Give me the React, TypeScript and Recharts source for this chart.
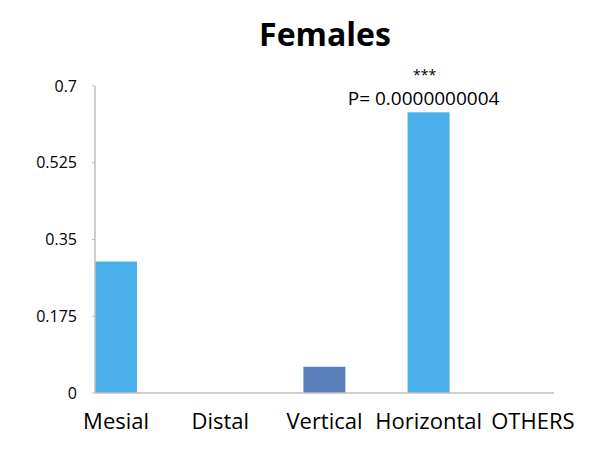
import React from 'react';
import { BarChart, Bar, XAxis, YAxis, Cell, LabelList } from 'recharts';

const categories = ['Mesial', 'Distal', 'Vertical', 'Horizontal', 'OTHERS'];
const values = [0.3, 0, 0.06, 0.64, 0];
const stars = ['', '', '', '***', ''];
const pValues = ['', '', '', 'P= 0.0000000004', ''];
const yTicks = [0, 0.175, 0.35, 0.525, 0.7];

const LIGHT = '#4BAFEA';
const DARK = '#5A80BC';
const barColors = [LIGHT, LIGHT, DARK, LIGHT, LIGHT];

const FONT = '"Open Sans", sans-serif';

const data = categories.map((name, i) => ({
    name,
    value: values[i],
    stars: stars[i],
    p: pValues[i],
}));

// significance note drawn above the bar that carries a p-value
const PLabel = (props: any) => {
    const { x, y, width, value } = props;
    if (!value) return null;
    const i = pValues.indexOf(value);
    const cx = Number(x) + Number(width) / 2 - 5;
    const top = Number(y);
    return (
        <g fontFamily={FONT} fill="#000" textAnchor="middle">
            <text x={cx + 1} y={top - 32} fontSize={14}>{stars[i]}</text>
            <text x={cx} y={top - 7} fontSize={19}>{value}</text>
        </g>
    );
};

const App = () => {
    return (
        <div style={{ position: 'absolute', left: 0, top: 0, width: 591, height: 456, background: '#fff' }}>
            <div
                style={{
                    position: 'absolute',
                    left: 0,
                    width: 650,
                    top: 12,
                    textAlign: 'center',
                    fontFamily: FONT,
                    fontWeight: 700,
                    fontSize: 32,
                    lineHeight: '44px',
                    color: '#000',
                }}
            >
                Females
            </div>
            <BarChart width={591} height={456} data={data} margin={{ top: 86, right: 37, left: 0, bottom: 0 }}>
                <XAxis
                    dataKey="name"
                    height={63}
                    padding={{ left: -31, right: -31 }}
                    axisLine={{ stroke: '#BFBFBF', strokeWidth: 1.5 }}
                    tickLine={false}
                    tickSize={0}
                    tickMargin={20}
                    interval={0}
                    tick={{ fill: '#000', fontSize: 22, fontFamily: FONT }}
                />
                <YAxis
                    width={95}
                    domain={[0, 0.7]}
                    ticks={yTicks}
                    interval={0}
                    axisLine={{ stroke: '#BFBFBF', strokeWidth: 1.5 }}
                    tickLine={{ stroke: '#BFBFBF' }}
                    tickSize={3}
                    tickMargin={15}
                    tick={{ fill: '#000', fontSize: 16, fontFamily: FONT }}
                />
                <Bar dataKey="value" barSize={42} isAnimationActive={false}>
                    {data.map((_, i) => (
                        <Cell key={`cell-${i}`} fill={barColors[i]} />
                    ))}
                    <LabelList dataKey="p" content={PLabel} />
                </Bar>
            </BarChart>
        </div>
    );
};

export default App;
